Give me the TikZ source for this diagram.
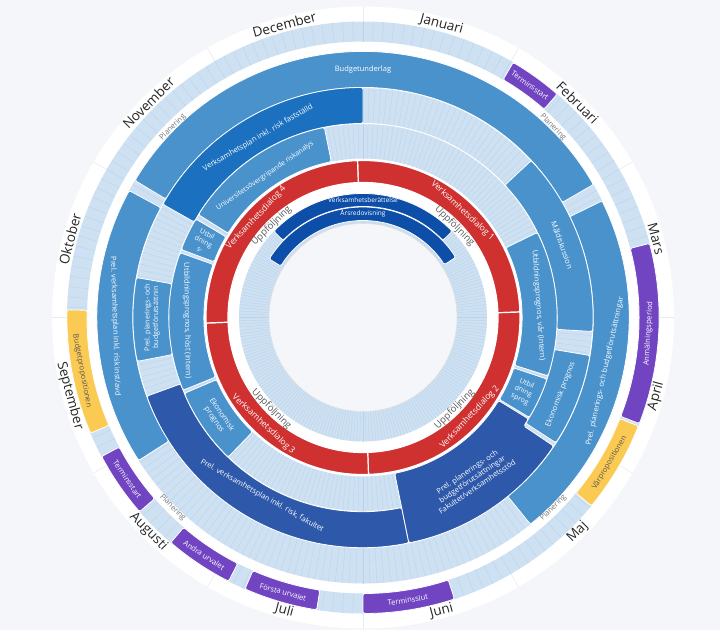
\documentclass[tikz,border=0pt]{standalone}
\usepackage{fontspec}
\setmainfont{Open Sans}
\usetikzlibrary{calc}
\definecolor{pageGrey}{RGB}{244,246,250}
\definecolor{trackBlue}{RGB}{206,225,242}
\definecolor{dayBlue}{RGB}{186,210,233}
\definecolor{itemBlue}{RGB}{74,146,204}
\definecolor{planBlue}{RGB}{27,112,192}
\definecolor{navyBlue}{RGB}{46,88,170}
\definecolor{reportBlue}{RGB}{12,78,168}
\definecolor{dialogRed}{RGB}{207,49,48}
\definecolor{eventPurple}{RGB}{113,69,193}
\definecolor{propYellow}{RGB}{250,202,82}

% sector: style, from, to (degrees clockwise from top), inner, outer radius
\newcommand{\sector}[5]{%
  \path[#1] ({90-(#2)}:#5pt) arc[start angle={90-(#2)}, end angle={90-(#3)}, radius=#5pt]
    -- ({90-(#3)}:#4pt) arc[start angle={90-(#3)}, end angle={90-(#2)}, radius=#4pt] -- cycle;}

\begin{document}
\begin{tikzpicture}[
    x=1pt, y=1pt,
    itembox/.style={fill=itemBlue, draw=white, line width=0.8pt, rounded corners=1.5pt},
    planbox/.style={itembox, fill=planBlue},
    navybox/.style={itembox, fill=navyBlue},
    reportbox/.style={itembox, fill=reportBlue},
    eventbox/.style={itembox, fill=eventPurple},
    propbox/.style={itembox, fill=propYellow},
    dialogseg/.style={fill=dialogRed, draw=white, line width=1.2pt},
    dayline/.style={draw=dayBlue, line width=0.35pt},
    monthline/.style={draw=black!8, line width=0.6pt},
    itemtext/.style={text=white, font=\fontsize{7.5}{9}\selectfont, align=center, inner sep=0pt},
    smalltext/.style={itemtext, font=\fontsize{7}{8.5}\selectfont},
    eventtext/.style={itemtext, font=\fontsize{7.5}{9}\selectfont},
    proptext/.style={eventtext, text=black!65},
    dialogtext/.style={itemtext, font=\fontsize{8.5}{9}\selectfont},
    monthtext/.style={text=black!85, font=\fontsize{13.5}{15}\selectfont, inner sep=0pt},
    followtext/.style={text=black!65, font=\fontsize{9.5}{10}\selectfont, inner sep=0pt},
    plantext/.style={text=black!55, font=\fontsize{7.5}{8}\selectfont, inner sep=0pt},
  ]
    \useasboundingbox (-363,-312.5) rectangle (357,317.5);
    \fill[pageGrey] (-363,-312.5) rectangle (357,317.5);
    \fill[white] (0,0) circle (311pt);

    % Month borders and names
    \foreach \i in {0,...,11} {
      \draw[monthline] ({90-30*\i}:296pt) -- ({90-30*\i}:311pt);
    }
    \foreach \m [count=\i from 0] in {Januari,Februari,Mars,April,Maj,Juni,Juli,Augusti,September,Oktober,November,December} {
      \pgfmathsetmacro\monthang{15+30*\i}
      \pgfmathsetmacro\monthrot{(\monthang>90 && \monthang<270) ? 180-\monthang : -\monthang}
      \node[monthtext, rotate=\monthrot] (month\i) at ({90-\monthang}:303.5pt) {\m};
    }

    % Tracks with day lines
    \fill[trackBlue, even odd rule] (0,0) circle (296pt) (0,0) circle (276pt);
    \fill[trackBlue, even odd rule] (0,0) circle (266pt) (0,0) circle (159pt);
    \fill[trackBlue, even odd rule] (0,0) circle (124pt) (0,0) circle (94pt);
    \foreach \t in {0,2,...,358} {
      \draw[dayline] (\t:276pt) -- (\t:296pt);
    }
    \foreach \t in {0,1.5,...,358.5} {
      \draw[dayline] (\t:159pt) -- (\t:266pt);
      \draw[dayline] (\t:94pt) -- (\t:124pt);
    }
    \draw[white, line width=1pt] (0,0) circle (230pt) (0,0) circle (194pt);
    \draw[black!12, fill=pageGrey, line width=0.6pt] (0,0) circle (94pt);

    % Events
    \sector{eventbox}{30.5}{41}{276}{296}
    \sector{eventbox}{75.5}{111}{276}{296}
    \sector{propbox}{111.5}{129.5}{276}{296}
    \sector{eventbox}{162}{180}{276}{296}
    \sector{eventbox}{189}{203.5}{276}{296}
    \sector{eventbox}{207}{220.5}{276}{296}
    \sector{eventbox}{229}{242}{276}{296}
    \sector{propbox}{247}{271.5}{276}{296}

    % Planning ring
    \sector{itembox}{-59}{60}{230}{266}
    \sector{itembox}{64}{141}{230}{266}
    \sector{itembox}{237.5}{298.5}{230}{266}

    % Plan ring
    \sector{planbox}{299.5}{360}{194}{230}
    \sector{itembox}{47}{93.5}{194}{230}
    \sector{itembox}{99.5}{123}{194}{230}
    \sector{navybox}{168.5}{250}{194}{230}
    \sector{itembox}{259}{280}{194}{230}

    % Forecast ring
    \sector{itembox}{302}{348.5}{159}{194}
    \sector{itembox}{290.5}{300.5}{159}{194}
    \sector{itembox}{248}{289.5}{159}{194}
    \sector{itembox}{224}{247}{159}{194}
    \sector{itembox}{64}{107.5}{159}{194}
    \sector{itembox}{108.5}{121}{159}{194}
    \path[navybox] (-34:230pt) arc[start angle=-34, end angle=-78.5, radius=230pt]
      -- (-78.5:159pt) arc[start angle=-78.5, end angle=-31.5, radius=159pt]
      -- (-31.5:194pt) arc[start angle=-31.5, end angle=-34, radius=194pt] -- cycle;

    % Reports
    \sector{reportbox}{-46}{46}{111}{124}
    \sector{reportbox}{-58}{57}{97}{110.5}

    % Dialogue ring
    \foreach \s in {-2,88,178,268} {
      \sector{dialogseg}{\s}{\s+90}{135}{157}
    }

    % Event labels
    \node[eventtext, rotate=-35.75] (evStartFeb) at ({90-35.75}:286pt) {Terminsstart};
    \node[eventtext, rotate=86.75] (evApply) at ({90-93.25}:286pt) {Anmälningsperiod};
    \node[proptext, rotate=59.5] (evSpring) at ({90-120.5}:286pt) {Vårpropositionen};
    \node[eventtext, rotate=9] (evEnd) at ({90-171}:286pt) {Terminsslut};
    \node[eventtext, rotate=-16.25] (evFirst) at ({90-196.25}:286pt) {Första urvalet};
    \node[eventtext, rotate=-33.75] (evSecond) at ({90-213.75}:286pt) {Andra urvalet};
    \node[eventtext, rotate=-55.5] (evStartAug) at ({90-235.5}:286pt) {Terminsstart};
    \node[proptext, rotate=-79.25] (evBudget) at ({90-259.25}:286pt) {Budgetpropositionen};

    % Planning labels
    \foreach \a/\r [count=\i] in {45/-45, 135/45, 225/-45, 315/45} {
      \node[plantext, rotate=\r] (plan\i) at ({90-\a}:269pt) {Planering};
    }
    \node[itemtext] (budget) at (90:248pt) {Budgetunderlag};
    \node[itemtext, rotate=77.5] (prelRight) at ({90-102.5}:248pt) {Prel. planerings- och budgetförutsättningar};
    \node[itemtext, rotate=-88] (prelInst) at ({90-268}:248pt) {Prel. verksamhetsplan inkl. risk inst/avd};

    % Plan and forecast labels
    \node[itemtext, rotate=30.25] (planFixed) at ({90-329.75}:208pt) {Verksamhetsplan inkl. risk fastställd};
    \node[itemtext, rotate=-70] (goals) at ({90-70}:212pt) {Måldiskussion};
    \node[itemtext, rotate=68.75] (econRight) at ({90-111.25}:212pt) {Ekonomisk prognos};
    \node[itemtext, rotate=-29.5] (prelFac) at ({90-209.5}:205pt) {Prel. verksamhetsplan inkl. risk, fakultet};
    \node[smalltext, rotate=90] (prelLeft) at ({90-270}:211pt) {Prel. planerings- och\\budgetförutsättnin};
    \node[smalltext, rotate=34.75] (risk) at ({90-325.25}:172pt) {Universitetsövergripande riskanalys};
    \node[smalltext, rotate=-25.5] (eduLeft) at ({90-295.5}:176.5pt) {Utbil\\dning\\s-};
    \node[itemtext, rotate=-89] (eduAutumn) at ({90-269}:176pt) {Utbildningsprognos, höst (intern)};
    \node[itemtext, rotate=-55.5] (econLeft) at ({90-235.5}:176pt) {Ekonomisk\\prognos};
    \node[itemtext, rotate=-86] (eduSpring) at ({90-86}:176pt) {Utbildningsprognos, vår (intern)};
    \node[smalltext, rotate=-24.75] (eduRight) at ({90-114.75}:176.5pt) {Utbil\\dning\\sprog};
    \node[itemtext, rotate=34] (prelFacBox) at ({90-146}:195pt) {Prel. planerings- och\\budgetförutsättningar\\Fakultet/verksamhetsstöd};

    % Dialogue and follow-up labels
    \foreach \a/\r/\n [count=\i] in {43/-43/1, 133/47/2, 223/-43/3, 313/47/4} {
      \node[dialogtext, rotate=\r] (dialog\i) at ({90-\a}:146pt) {Verksamhetsdialog \n};
    }
    \foreach \a/\r [count=\i] in {45/-45, 135/45, 225/-45, 315/45} {
      \node[followtext, rotate=\r] (follow\i) at ({90-\a}:129.5pt) {Uppföljning};
    }
    \node[itemtext, font=\fontsize{6.5}{7}\selectfont] (story) at (90:117.5pt) {Verksamhetsberättelse};
    \node[itemtext, font=\fontsize{6.5}{7}\selectfont] (annual) at (90:103.75pt) {Årsredovisning};
  \end{tikzpicture}
\end{document}
